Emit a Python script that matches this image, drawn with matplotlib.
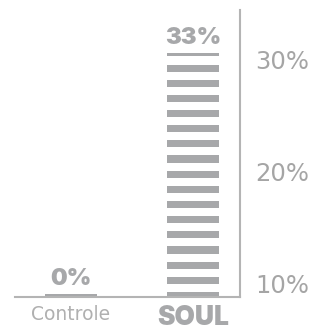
import numpy as np
import matplotlib
matplotlib.use('Agg')
import matplotlib.pyplot as plt

groups = ['Controle', 'SOUL']
values = [0, 33]
value_labels = ['0%', '33%']
scale_ticks = [10, 20, 30]
scale_labels = ['10%', '20%', '30%']

gray = '#a7a8aa'
line_gray = '#b4b4b4'
heavy = ['Inter', 'DejaVu Sans']

fig = plt.figure(figsize=(3.24, 3.30), dpi=100)
ax = fig.add_axes([15/324, 33/330, 225/324, 287/330])
ax.set_xlim(-0.459, 1.385)
ax.set_ylim(0, 38.8)

# striped bars: thin cap on top, then full stripes down to the baseline
thin, stripe, gap = 0.47, 0.95, 1.1
width = 0.426
x = np.arange(len(groups))
for xi, v in zip(x, values):
    top = max(v, thin)
    ax.bar(xi, thin, bottom=top - thin, width=width, color=gray, linewidth=0)
    cur = top - thin - gap
    while cur > 0:
        bot = max(cur - stripe, 0)
        ax.bar(xi, cur - bot, bottom=bot, width=width, color=gray, linewidth=0)
        cur -= stripe + gap

for xi, v, lab in zip(x, values, value_labels):
    ax.annotate(lab, (xi, max(v, thin)), xytext=(0, 2.5), textcoords='offset points',
                ha='center', va='bottom', color=gray, fontsize=17,
                fontweight='black', family=heavy)

ax.set_xticks(x)
ax.set_xticklabels(groups)
ax.tick_params(axis='x', length=0, pad=6)
tl = ax.get_xticklabels()
tl[0].set_fontsize(13.5)
tl[0].set_family(['DejaVu Sans'])
tl[0].set_fontweight('normal')
tl[0].set_color('#b0b0b0')
tl[1].set_fontsize(19)
tl[1].set_fontweight('black')
tl[1].set_family(heavy)
tl[1].set_color(gray)
ax.set_yticks([])
for s in ['left', 'top', 'right']:
    ax.spines[s].set_visible(False)
ax.spines['bottom'].set_color(line_gray)
ax.spines['bottom'].set_linewidth(1.5)

# percentage scale on the right
ax2 = ax.twinx()
ax2.set_ylim(8.8, 34.4)
ax2.set_yticks(scale_ticks)
ax2.set_yticklabels(scale_labels)
ax2.tick_params(axis='y', length=0, pad=11, labelsize=17.5, labelcolor='#a5a5a5')
for s in ['left', 'top', 'bottom']:
    ax2.spines[s].set_visible(False)
ax2.spines['right'].set_color(line_gray)
ax2.spines['right'].set_linewidth(1.5)

fig.savefig('out.png', dpi=100)
